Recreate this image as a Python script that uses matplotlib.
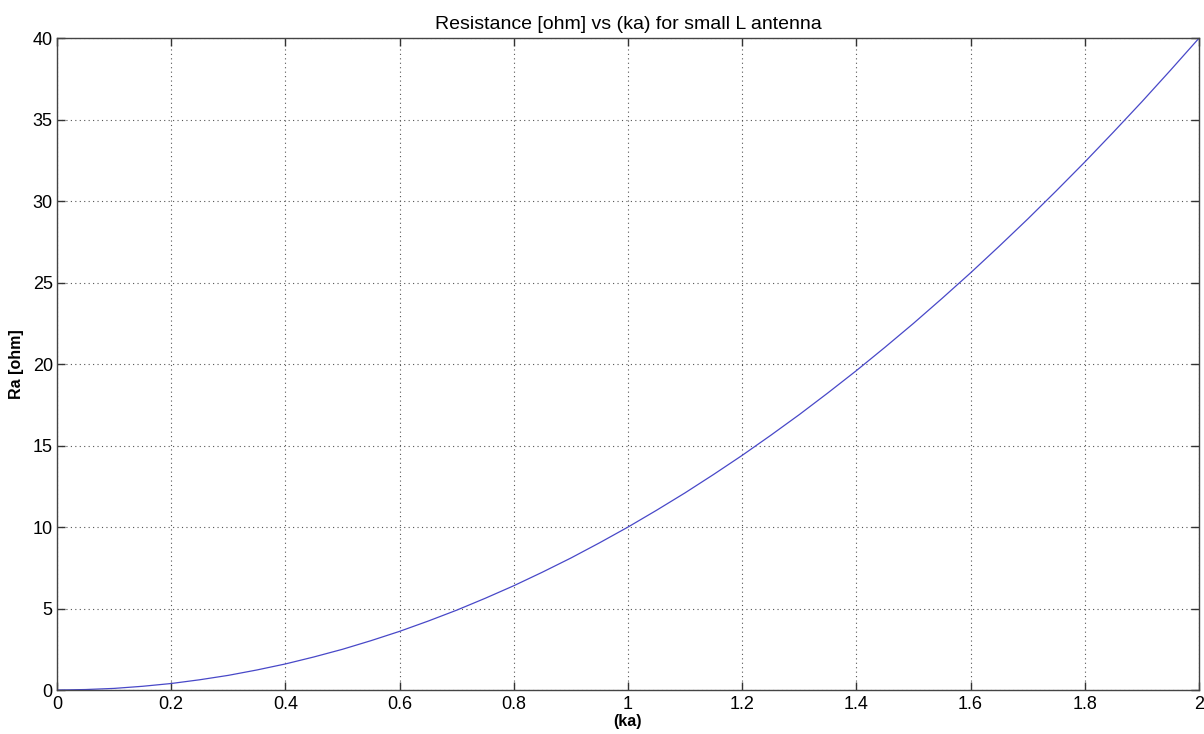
import matplotlib
matplotlib.use("Agg")
import matplotlib.pyplot as plt

plt.rcParams["font.family"] = ["Liberation Sans", "DejaVu Sans"]

# radiation resistance of the small loop, sampled every 0.05 in ka
ka = [0.0, 0.05, 0.1, 0.15, 0.2, 0.25, 0.3, 0.35, 0.4, 0.45, 0.5,
      0.55, 0.6, 0.65, 0.7, 0.75, 0.8, 0.85, 0.9, 0.95, 1.0,
      1.05, 1.1, 1.15, 1.2, 1.25, 1.3, 1.35, 1.4, 1.45, 1.5,
      1.55, 1.6, 1.65, 1.7, 1.75, 1.8, 1.85, 1.9, 1.95, 2.0]
ra = [0.0, 0.03, 0.1, 0.23, 0.4, 0.63, 0.9, 1.23, 1.6, 2.03, 2.5,
      3.03, 3.6, 4.23, 4.9, 5.63, 6.4, 7.23, 8.1, 9.03, 10.0,
      11.03, 12.1, 13.23, 14.4, 15.63, 16.9, 18.23, 19.6, 21.03, 22.5,
      24.03, 25.6, 27.23, 28.9, 30.63, 32.4, 34.23, 36.1, 38.03, 40.0]
xticks = [0, 0.2, 0.4, 0.6, 0.8, 1, 1.2, 1.4, 1.6, 1.8, 2]
xtick_labels = ["0", "0.2", "0.4", "0.6", "0.8", "1", "1.2", "1.4", "1.6", "1.8", "2"]
yticks = [0, 5, 10, 15, 20, 25, 30, 35, 40]

fig = plt.figure(figsize=(12.04, 7.34), dpi=100)
ax = fig.add_axes([0.0473, 0.0599, 0.9485, 0.888])
ax.plot(ka, ra, color="#4848c8", lw=0.9)

ax.set_xlim(0, 2)
ax.set_ylim(0, 40)
ax.set_xticks(xticks)
ax.set_xticklabels(xtick_labels)
ax.set_yticks(yticks)
ax.tick_params(direction="in", length=6, width=1, labelsize=13, top=True, right=True,
               color="#333333")
ax.tick_params(axis="x", pad=4)
ax.tick_params(axis="y", pad=3)
for s in ax.spines.values():
    s.set_color("#444444")
    s.set_linewidth(1.0)
ax.grid(True, linestyle=(0, (1, 3)), color="#555555", lw=0.8)

ax.set_title("Resistance [ohm] vs (ka) for small L antenna", fontsize=14, pad=7)
ax.set_xlabel("(ka)", fontsize=11.5, fontweight="bold", labelpad=1)
ax.set_ylabel("Ra [ohm]", fontsize=11.5, fontweight="bold", labelpad=6)

fig.savefig("out.png", dpi=100)
